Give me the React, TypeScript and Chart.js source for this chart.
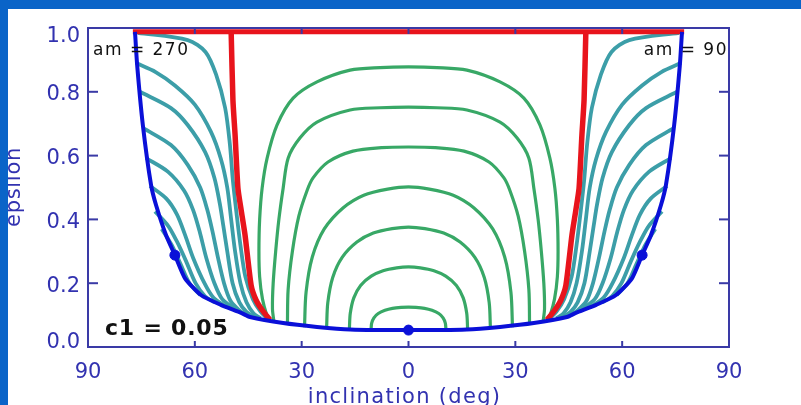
import React, { useEffect, useRef } from "react";
import { Chart, registerables } from "chart.js";

Chart.register(...registerables);

type Pt = [number, number];

// ---- axis ticks ----
const xTickValues = [-90, -60, -30, 0, 30, 60, 90];
const xTickLabels = ["90", "60", "30", "0", "30", "60", "90"];
const yTickValues = [0, 0.2, 0.4, 0.6, 0.8, 1.0];
const yTickLabels = ["0.0", "0.2", "0.4", "0.6", "0.8", "1.0"];

// ---- green contours (left half, from foot up to the top at 0 deg) ----
const greenA: Pt[] = [[-39, 0.085], [-39.8, 0.1], [-41, 0.15], [-41.8, 0.22], [-42, 0.3], [-41.8, 0.4], [-41.1, 0.498], [-39.7, 0.592], [-36.9, 0.696], [-32.4, 0.78], [-25.7, 0.831], [-16.4, 0.868], [-8, 0.876], [0, 0.878]];
const greenB: Pt[] = [[-37.8, 0.08], [-38.2, 0.12], [-38, 0.2], [-37.3, 0.3], [-36.4, 0.4], [-35.2, 0.498], [-33.8, 0.592], [-30.5, 0.655], [-25.7, 0.705], [-16.4, 0.743], [-8, 0.75], [0, 0.752]];
const greenC: Pt[] = [[-34, 0.07], [-33.8, 0.18], [-32.6, 0.3], [-30.8, 0.41], [-28.5, 0.49], [-26.8, 0.53], [-22.6, 0.58], [-15.6, 0.614], [-7.6, 0.625], [0, 0.627]];
const greenD: Pt[] = [[-29.2, 0.062], [-28.76, 0.172], [-27.01, 0.282], [-23.65, 0.37], [-18.4, 0.436], [-12.56, 0.476], [-5.84, 0.495], [0, 0.502]];
const greenE: Pt[] = [[-23, 0.06], [-22.66, 0.139], [-21.28, 0.218], [-18.63, 0.281], [-14.49, 0.329], [-9.89, 0.357], [-4.6, 0.371], [0, 0.376]];
const greenF: Pt[] = [[-16.6, 0.057], [-16.35, 0.1055], [-15.36, 0.154], [-13.45, 0.193], [-10.46, 0.222], [-7.14, 0.239], [-3.32, 0.248], [0, 0.251]];
const greenG: Pt[] = [[-10.5, 0.058], [-10.34, 0.075], [-9.71, 0.0915], [-8.5, 0.105], [-6.6, 0.115], [-4.5, 0.121], [-2.1, 0.124], [0, 0.125]];

// ---- teal contours (left side, right side is the mirror) ----
const teal1: Pt[] = [[-76, 0.985], [-62, 0.962], [-57, 0.925], [-54, 0.853], [-51.5, 0.75], [-50.2, 0.64], [-49.3, 0.52], [-48.3, 0.42], [-47.2, 0.32], [-45.8, 0.22], [-43.7, 0.15], [-41.5, 0.11], [-39.5, 0.088]];
const teal2: Pt[] = [[-76.5, 0.89], [-71, 0.862], [-65.6, 0.82], [-60, 0.76], [-55.5, 0.675], [-52.7, 0.59], [-50.9, 0.5], [-49.8, 0.4], [-48.7, 0.3], [-47.2, 0.2], [-45.5, 0.14], [-43.5, 0.105], [-41.5, 0.09]];
const teal3: Pt[] = [[-75.4, 0.8], [-66.7, 0.749], [-62, 0.696], [-57.1, 0.611], [-54.5, 0.53], [-53, 0.45], [-52, 0.38], [-50.9, 0.3], [-49.4, 0.2], [-47.5, 0.14], [-45.5, 0.11], [-43.5, 0.095]];
const teal4: Pt[] = [[-74.6, 0.687], [-66.7, 0.633], [-62, 0.571], [-58.5, 0.5], [-56.5, 0.43], [-55, 0.36], [-53.5, 0.28], [-51.8, 0.2], [-50, 0.145], [-47.5, 0.115], [-45.5, 0.1]];
const teal5: Pt[] = [[-73.7, 0.592], [-67.5, 0.549], [-63, 0.49], [-60.5, 0.43], [-58.6, 0.36], [-56.8, 0.28], [-54.5, 0.2], [-52.3, 0.15], [-48, 0.113]];
const teal6: Pt[] = [[-72.6, 0.505], [-68, 0.465], [-65, 0.415], [-62.7, 0.35], [-60.5, 0.28], [-57.3, 0.2], [-54.8, 0.155], [-51, 0.125]];
const teal7: Pt[] = [[-71.2, 0.425], [-67.5, 0.38], [-65, 0.33], [-62.5, 0.27], [-59.8, 0.2], [-57.2, 0.16], [-54.5, 0.14]];
const teal8: Pt[] = [[-69.3, 0.37], [-66.5, 0.32], [-64, 0.26], [-61.5, 0.2], [-58.5, 0.163]];

// ---- red boundary ----
const redTop: Pt[] = [[-77.4, 0.988], [77.4, 0.988]];
const redLeft: Pt[] = [[-49.8, 0.988], [-49.3, 0.774], [-48.7, 0.665], [-47.9, 0.498], [-47.0, 0.43], [-45.9, 0.351], [-44.2, 0.194], [-42.8, 0.147], [-41.1, 0.116], [-38.9, 0.085]];

// ---- blue envelope (left half, top to centre) ----
const blueHalf: Pt[] = [[-76.8, 0.988], [-76.2, 0.884], [-74.6, 0.696], [-72.3, 0.508], [-70.9, 0.445], [-68.1, 0.351], [-65.6, 0.288], [-62.8, 0.216], [-58.3, 0.163], [-52.7, 0.132], [-47, 0.107], [-44.5, 0.094], [-35.2, 0.075], [-25.7, 0.063], [-16.4, 0.055], [0, 0.053]];
const blueDots: Pt[] = [[-65.6, 0.288], [0, 0.053], [65.6, 0.288]];

// ---- colours ----
const BG_BLUE = "#0a64c8";
const AXIS = "#3a3aa6";
const LABEL = "#3232b0";
const GREEN = "#38a866";
const TEAL = "#3c9ea8";
const RED = "#e8141c";
const BLUE = "#0a10d8";

const mirror = (pts: Pt[]): Pt[] => pts.map(([x, y]) => [-x, y] as Pt);
const fullArc = (half: Pt[]): Pt[] => [...half, ...mirror(half).reverse().slice(1)];
const toXY = (pts: Pt[]) => pts.map(([x, y]) => ({ x, y }));

const line = (pts: Pt[], color: string, width: number, tension = 0.3) => ({
  data: toXY(pts),
  showLine: true,
  borderColor: color,
  backgroundColor: color,
  borderWidth: width,
  pointRadius: 0,
  tension,
  fill: false,
});

const greens = [greenA, greenB, greenC, greenD, greenE, greenF, greenG];
const teals = [teal1, teal2, teal3, teal4, teal5, teal6, teal7, teal8];

const datasets: any[] = [
  { data: toXY(blueDots), showLine: false, pointRadius: 5, pointBackgroundColor: BLUE, pointBorderColor: BLUE, borderColor: BLUE },
  line(fullArc(blueHalf), BLUE, 4, 0.2),
  line(redTop, RED, 5, 0),
  line(redLeft, RED, 5.5, 0.2),
  line(mirror(redLeft), RED, 5.5, 0.2),
  ...greens.map((g) => line(fullArc(g), GREEN, 3.2)),
  ...teals.map((t) => line(t, TEAL, 3.8)),
  ...teals.map((t) => line(mirror(t), TEAL, 3.8)),
];

const decor = {
  id: "decor",
  afterDatasetsDraw(chart: any) {
    const { ctx, chartArea: a, scales } = chart;
    const x = scales.x;
    const y = scales.y;
    ctx.save();
    ctx.strokeStyle = AXIS;
    ctx.lineWidth = 2;
    ctx.strokeRect(a.left, a.top, a.right - a.left, a.bottom - a.top);
    const seg = (x1: number, y1: number, x2: number, y2: number) => {
      ctx.beginPath();
      ctx.moveTo(x1, y1);
      ctx.lineTo(x2, y2);
      ctx.stroke();
    };
    yTickValues.forEach((v) => {
      const py = y.getPixelForValue(v);
      seg(a.left, py, a.left + 10, py);
      seg(a.right, py, a.right - 10, py);
    });
    xTickValues.forEach((v) => {
      const px = x.getPixelForValue(v);
      seg(px, a.bottom, px, a.bottom - 6);
      seg(px, a.top, px, a.top + 6);
    });

    // tick labels
    ctx.fillStyle = LABEL;
    ctx.font = "21px 'DejaVu Sans'";
    ctx.textBaseline = "alphabetic";
    ctx.textAlign = "right";
    yTickValues.forEach((v, i) => {
      const py = y.getPixelForValue(v);
      const by = Math.min(Math.max(py + 8.5, a.top + 14), a.bottom + 1);
      ctx.fillText(yTickLabels[i], a.left - 8, by);
    });
    ctx.textAlign = "center";
    xTickValues.forEach((v, i) => {
      ctx.fillText(xTickLabels[i], x.getPixelForValue(v), a.bottom + 31);
    });

    // axis titles
    (ctx as any).letterSpacing = "1.3px";
    ctx.fillText("inclination (deg)", (a.left + a.right) / 2 - 4, a.bottom + 56);
    ctx.save();
    ctx.translate(12, 178);
    ctx.rotate(-Math.PI / 2);
    (ctx as any).letterSpacing = "0.7px";
    ctx.fillText("epsilon", 0, 0);
    ctx.restore();

    // annotations
    ctx.fillStyle = "#111";
    ctx.font = "17px 'DejaVu Sans'";
    (ctx as any).letterSpacing = "1.5px";
    ctx.textAlign = "left";
    ctx.fillText("am = 270", a.left + 5, a.top + 27);
    ctx.textAlign = "right";
    ctx.fillText("am = 90", a.right - 1, a.top + 27);
    ctx.font = "bold 22px 'DejaVu Sans'";
    (ctx as any).letterSpacing = "0.8px";
    ctx.textAlign = "left";
    ctx.fillText("c1 = 0.05", a.left + 17, a.bottom - 12);
    ctx.restore();
  },
};

export default function App() {
  const ref = useRef<HTMLCanvasElement>(null);
  useEffect(() => {
    const chart = new Chart(ref.current as HTMLCanvasElement, {
      type: "scatter",
      data: { datasets },
      options: {
        responsive: false,
        animation: false,
        devicePixelRatio: 1,
        events: [],
        layout: { padding: { left: 80, right: 72, top: 19, bottom: 58 } },
        plugins: { legend: { display: false }, tooltip: { enabled: false } },
        scales: {
          x: { type: "linear", display: false, min: -90, max: 90 },
          y: { type: "linear", display: false, min: 0, max: 1 },
        },
      } as any,
      plugins: [decor as any],
    });
    return () => chart.destroy();
  }, []);
  return (
    <div style={{ position: "fixed", left: 0, top: 0, width: 801, height: 405, background: BG_BLUE, overflow: "hidden" }}>
      <div style={{ position: "absolute", left: 8, top: 9, width: 793, height: 396, background: "#ffffff" }}>
        <canvas ref={ref} width={793} height={396} style={{ display: "block" }} />
      </div>
    </div>
  );
}
